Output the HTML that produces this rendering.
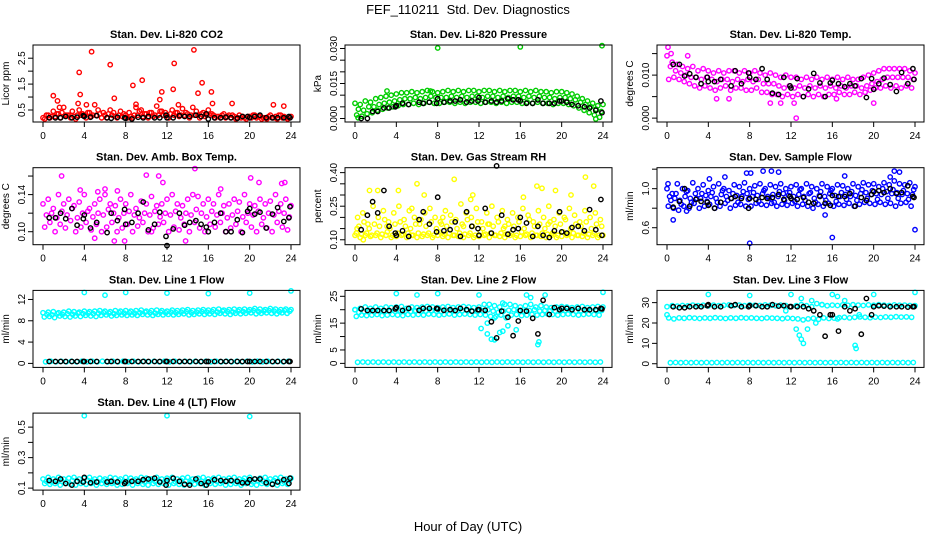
<!DOCTYPE html>
<html><head><meta charset="utf-8"><style>
body{margin:0;background:#fff;}
svg{display:block;font-family:"Liberation Sans",sans-serif;}
</style></head><body>
<svg id="c" width="936" height="540" viewBox="0 0 936 540">
<rect width="936" height="540" fill="#fff"/>
<text x="468" y="14" text-anchor="middle" font-size="13">FEF_110211&#160; Std. Dev. Diagnostics</text>
<text x="468" y="531" text-anchor="middle" font-size="13">Hour of Day (UTC)</text>
</svg>
<script>
const blackHours=[0.6,1.2,1.7,2.2,2.8,3.3,3.9,4.0,4.6,5.2,6.2,6.6,7.2,7.9,8.0,8.6,9.2,9.7,10.2,10.8,11.3,11.9,12.0,12.6,13.2,13.7,14.2,14.8,15.3,15.8,16.0,16.6,17.2,17.7,18.2,18.8,19.3,19.8,20.0,20.5,21.0,21.6,22.2,22.7,23.3,23.8,23.9];
const xTicks=[0,4,8,12,16,20,24];

const co2A=[0.2,0.3,0.45,0.35,0.6,0.3,0.25,0.5,0.3,0.4,0.7,0.35,0.3,0.5,0.25,0.45,0.3,0.25,0.6,0.5,0.35,0.4,0.65,0.45,0.3,0.5,0.4,0.55,0.35,0.6,0.3,0.4,0.5,0.3,0.25,0.35,0.3,0.25,0.3,0.2,0.25,0.3,0.25,0.2,0.3,0.25,0.3,0.2,0.25];
const co2B=[0.15,0.2,0.25,0.2,0.3,0.2,0.15,0.3,0.2,0.25,0.3,0.2,0.2,0.3,0.2,0.25,0.2,0.2,0.3,0.25,0.2,0.25,0.3,0.3,0.2,0.3,0.25,0.3,0.2,0.3,0.2,0.25,0.3,0.2,0.2,0.2,0.2,0.15,0.2,0.15,0.2,0.2,0.15,0.15,0.2,0.15,0.2,0.15,0.2];
const co2C=[0.3,0.25,0.35,0.4,0.3,0.45,0.3,0.35,0.4,0.3,0.5,0.4,0.35,0.4,0.3,0.35,0.4,0.3,0.45,0.35,0.4,0.3,0.45,0.4,0.35,0.4,0.3,0.4,0.3,0.45,0.35,0.3,0.35,0.25,0.3,0.25,0.3,0.2,0.25,0.25,0.3,0.25,0.2,0.25,0.2,0.3,0.25,0.2,0.2];
const co2Out=[[1,1.05],[1.4,0.85],[3.5,1.95],[3.6,1.1],[4.7,2.75],[6.5,2.25],[6.9,0.95],[8.7,1.45],[9.6,1.65],[11.5,1.2],[12.7,2.3],[12.6,1.3],[14.6,2.82],[15,1.15],[15.4,1.55],[16.3,1.2],[18.3,0.75],[22.3,0.7],[23.3,0.65],[4.2,0.7],[9,0.72],[11.3,0.9],[1.6,0.6],[3.4,0.75],[13.1,0.7],[16.4,0.75]];
const co2Blk=[0.2,0.2,0.2,0.25,0.2,0.22,0.28,0.25,0.22,0.28,0.2,0.18,0.22,0.2,0.18,0.15,0.22,0.2,0.25,0.2,0.2,0.3,0.2,0.2,0.28,0.25,0.25,0.3,0.25,0.35,0.15,0.2,0.2,0.22,0.2,0.18,0.25,0.25,0.2,0.25,0.3,0.2,0.2,0.2,0.2,0.25,0.2];

const prA=[0.0065,0.006,0.0075,0.007,0.0085,0.009,0.0095,0.01,0.0105,0.011,0.011,0.0115,0.011,0.0115,0.012,0.0115,0.011,0.0115,0.012,0.0115,0.012,0.0115,0.012,0.012,0.0115,0.012,0.012,0.0115,0.012,0.0115,0.012,0.012,0.0115,0.012,0.0115,0.012,0.0115,0.0115,0.011,0.0115,0.0115,0.011,0.0105,0.0095,0.0085,0.0075,0.0065,0.0055,0.006];
const prB=[0.0015,0.001,0.002,0.0025,0.0035,0.004,0.0045,0.005,0.0055,0.006,0.006,0.0065,0.006,0.0065,0.007,0.0065,0.0065,0.007,0.007,0.0065,0.007,0.0065,0.007,0.007,0.0065,0.007,0.007,0.0065,0.007,0.0065,0.007,0.007,0.0065,0.007,0.0065,0.007,0.0065,0.0065,0.006,0.0065,0.0065,0.006,0.0055,0.0045,0.0035,0.0025,0.0015,0.0005,0.003];
const prC=[0.004,0.0035,0.005,0.005,0.006,0.0065,0.007,0.0075,0.008,0.0085,0.0085,0.009,0.0085,0.009,0.0095,0.009,0.009,0.009,0.0095,0.009,0.0095,0.009,0.0095,0.0095,0.009,0.0095,0.0095,0.009,0.0095,0.009,0.0095,0.0095,0.009,0.0095,0.009,0.0095,0.009,0.009,0.0085,0.009,0.009,0.0085,0.008,0.007,0.006,0.005,0.004,0.003,0.0045];
const prOut=[[8,0.0302],[16,0.0307],[23.9,0.0312],[3.1,0.0118],[7.3,0.0118],[0.3,0.0003],[23.3,-0.0002]];
const prBlk=[0,0,0.003,0.003,0.0045,0.0045,0.005,0.0055,0.0065,0.006,0.007,0.0065,0.007,0.0065,0.0085,0.007,0.0075,0.0075,0.008,0.007,0.0075,0.0075,0.009,0.007,0.0075,0.007,0.0075,0.0085,0.008,0.008,0.0075,0.0065,0.0065,0.008,0.0065,0.0065,0.0065,0.0075,0.0075,0.007,0.006,0.0055,0.005,0.0045,0.0035,0.0075,0.0025];

const tpA=[0.0145,0.013,0.0125,0.012,0.0115,0.012,0.011,0.0115,0.011,0.0105,0.011,0.0105,0.011,0.011,0.0105,0.011,0.0105,0.011,0.0105,0.01,0.0105,0.01,0.0095,0.01,0.0095,0.0095,0.009,0.0095,0.009,0.0095,0.009,0.0095,0.009,0.0095,0.009,0.0095,0.009,0.009,0.0095,0.01,0.0105,0.011,0.0115,0.0115,0.0115,0.0115,0.0115,0.011,0.0105];
const tpB=[0.009,0.0095,0.009,0.0085,0.008,0.0075,0.007,0.0075,0.007,0.0065,0.007,0.0075,0.0065,0.007,0.007,0.0065,0.0065,0.007,0.006,0.006,0.0055,0.0055,0.005,0.0055,0.005,0.0055,0.005,0.0055,0.005,0.0055,0.005,0.0055,0.0055,0.006,0.0055,0.0055,0.006,0.0055,0.006,0.0065,0.007,0.007,0.0075,0.007,0.0075,0.007,0.0075,0.007,0.0075];
const tpC=[0.012,0.011,0.0105,0.01,0.0095,0.0095,0.009,0.0095,0.009,0.0085,0.009,0.009,0.0085,0.009,0.0085,0.009,0.0085,0.009,0.008,0.008,0.008,0.0075,0.007,0.0075,0.007,0.0075,0.007,0.0075,0.007,0.0075,0.007,0.0075,0.007,0.0075,0.007,0.0075,0.0075,0.007,0.0075,0.008,0.0085,0.009,0.0095,0.0095,0.0095,0.0095,0.0095,0.009,0.009];
const tpOut=[[0.1,0.0165],[0.4,0.015],[2,0.0145],[12.5,0],[10,0.0035],[11,0.0035],[12.3,0.0035],[20,0.0035],[16.4,0.0045],[4.8,0.0045],[6,0.0045]];
const tpBlk=[0.0125,0.0125,0.0098,0.0103,0.0095,0.008,0.0095,0.0085,0.0085,0.009,0.0075,0.011,0.008,0.0105,0.0095,0.009,0.0115,0.009,0.0058,0.0055,0.0095,0.0075,0.007,0.0092,0.005,0.0068,0.0104,0.0082,0.005,0.0082,0.0088,0.008,0.0073,0.008,0.0075,0.0092,0.0048,0.0092,0.0067,0.008,0.0093,0.0078,0.0062,0.0106,0.008,0.0115,0.009];

const abA=[0.13,0.135,0.125,0.14,0.13,0.135,0.128,0.132,0.14,0.125,0.13,0.135,0.14,0.13,0.128,0.135,0.13,0.14,0.125,0.133,0.13,0.138,0.128,0.13,0.135,0.14,0.13,0.128,0.135,0.14,0.138,0.13,0.135,0.13,0.14,0.128,0.13,0.135,0.132,0.14,0.13,0.128,0.135,0.13,0.133,0.14,0.13,0.135,0.128];
const abB=[0.105,0.11,0.1,0.108,0.104,0.112,0.1,0.105,0.11,0.102,0.108,0.1,0.105,0.11,0.1,0.104,0.108,0.1,0.106,0.11,0.1,0.104,0.108,0.11,0.1,0.105,0.102,0.108,0.1,0.11,0.104,0.1,0.108,0.105,0.11,0.1,0.104,0.108,0.1,0.11,0.105,0.1,0.108,0.104,0.1,0.11,0.105,0.102,0.108];
const abC=[0.118,0.12,0.115,0.122,0.118,0.125,0.115,0.12,0.122,0.116,0.12,0.118,0.124,0.12,0.115,0.12,0.122,0.118,0.115,0.12,0.118,0.122,0.116,0.12,0.118,0.122,0.115,0.12,0.118,0.124,0.12,0.116,0.122,0.118,0.12,0.115,0.118,0.122,0.116,0.12,0.118,0.122,0.115,0.12,0.118,0.122,0.12,0.116,0.12];
const abOut=[[1.8,0.16],[3.6,0.145],[5.3,0.143],[6,0.146],[7.2,0.144],[10,0.161],[11.2,0.16],[11.6,0.153],[14.7,0.168],[17.2,0.146],[20.1,0.158],[20.9,0.153],[23.1,0.152],[23.4,0.153],[5,0.093],[6.9,0.09],[7.9,0.09],[13.8,0.09],[10.5,0.1]];
const abBlk=[0.115,0.115,0.12,0.114,0.125,0.107,0.114,0.118,0.104,0.11,0.099,0.12,0.112,0.124,0.108,0.11,0.12,0.132,0.102,0.108,0.121,0.095,0.085,0.103,0.12,0.107,0.11,0.112,0.108,0.105,0.1,0.11,0.12,0.1,0.1,0.113,0.099,0.122,0.125,0.119,0.121,0.104,0.119,0.126,0.111,0.115,0.127];

const rhA=[0.12,0.11,0.12,0.115,0.12,0.11,0.12,0.11,0.115,0.12,0.11,0.12,0.11,0.115,0.12,0.11,0.12,0.115,0.11,0.12,0.115,0.11,0.12,0.11,0.115,0.12,0.11,0.12,0.115,0.11,0.12,0.11,0.115,0.12,0.11,0.12,0.115,0.11,0.12,0.11,0.115,0.12,0.11,0.12,0.115,0.11,0.12,0.11,0.12];
const rhB=[0.13,0.125,0.13,0.12,0.13,0.125,0.135,0.12,0.13,0.125,0.13,0.12,0.13,0.125,0.13,0.12,0.135,0.125,0.13,0.12,0.13,0.125,0.13,0.12,0.135,0.125,0.13,0.12,0.13,0.125,0.13,0.12,0.135,0.125,0.13,0.12,0.13,0.125,0.13,0.12,0.135,0.125,0.13,0.12,0.13,0.125,0.13,0.12,0.13];
const rhC=[0.2,0.22,0.17,0.25,0.2,0.23,0.18,0.22,0.25,0.19,0.23,0.2,0.17,0.22,0.24,0.2,0.18,0.23,0.21,0.19,0.26,0.22,0.2,0.24,0.18,0.22,0.25,0.2,0.23,0.19,0.22,0.2,0.24,0.21,0.18,0.23,0.2,0.25,0.19,0.22,0.2,0.24,0.21,0.18,0.23,0.2,0.22,0.19,0.16];
const rhD=[0.16,0.18,0.15,0.17,0.16,0.19,0.15,0.17,0.18,0.16,0.15,0.17,0.19,0.16,0.18,0.15,0.17,0.16,0.18,0.15,0.17,0.19,0.16,0.18,0.15,0.17,0.16,0.18,0.15,0.17,0.16,0.18,0.15,0.19,0.16,0.17,0.15,0.18,0.16,0.17,0.19,0.15,0.17,0.16,0.18,0.15,0.17,0.16,0.15];
const rhOut=[[1.4,0.32],[2.2,0.32],[4.2,0.32],[6,0.35],[6.7,0.3],[9.6,0.37],[11.4,0.3],[11.2,0.28],[16.3,0.29],[17.6,0.34],[18.1,0.33],[19.4,0.32],[20.9,0.3],[22.3,0.38],[23.1,0.34],[0.8,0.1],[0.2,0.15],[3.1,0.16],[10.5,0.16],[14.5,0.16],[18.7,0.17],[13,0.17],[5.5,0.24],[8.5,0.2]];
const rhBlk=[0.145,0.21,0.27,0.22,0.32,0.16,0.13,0.12,0.14,0.115,0.19,0.225,0.17,0.135,0.29,0.14,0.145,0.18,0.115,0.225,0.16,0.15,0.12,0.24,0.13,0.43,0.21,0.125,0.145,0.15,0.2,0.175,0.115,0.16,0.12,0.11,0.14,0.225,0.135,0.13,0.155,0.16,0.14,0.235,0.145,0.28,0.12];

const sfA=[1.0,0.95,1.05,1.0,0.98,1.06,1.0,1.04,0.98,1.02,1.05,1.0,0.98,1.04,1.02,1.06,1.0,1.03,1.05,1.0,1.04,1.02,1.05,1.0,1.02,1.04,1.0,1.05,1.02,1.0,1.05,1.02,1.0,1.04,1.03,1.0,1.05,1.02,1.06,1.04,1.05,1.02,1.06,1.04,1.08,1.05,1.04,1.06,1.02];
const sfB=[0.82,0.8,0.78,0.82,0.8,0.85,0.8,0.82,0.84,0.8,0.82,0.85,0.8,0.83,0.84,0.82,0.82,0.85,0.84,0.83,0.85,0.82,0.84,0.83,0.85,0.82,0.84,0.82,0.8,0.84,0.82,0.85,0.82,0.84,0.83,0.85,0.82,0.84,0.86,0.85,0.84,0.86,0.84,0.85,0.82,0.85,0.86,0.82,0.82];
const sfC=[0.92,0.9,0.88,0.92,0.9,0.95,0.9,0.93,0.92,0.9,0.94,0.92,0.9,0.93,0.92,0.95,0.92,0.93,0.95,0.92,0.94,0.92,0.95,0.93,0.92,0.94,0.92,0.95,0.9,0.93,0.92,0.95,0.93,0.92,0.94,0.92,0.93,0.95,0.96,0.94,0.95,0.94,0.97,0.95,0.96,0.94,0.95,0.94,0.92];
const sfD=[0.88,0.95,0.84,0.97,0.86,0.9,0.95,0.87,0.96,0.86,0.98,0.88,0.95,0.86,0.97,0.89,0.96,0.87,0.98,0.9,0.86,0.97,0.88,0.96,0.87,0.99,0.88,0.96,0.86,0.97,0.88,0.98,0.87,0.96,0.89,0.97,0.88,0.99,0.9,0.98,0.89,1.0,0.9,0.99,0.9,0.98,0.89,0.99,0.88];
const sfOut=[[0.6,0.68],[1.9,0.77],[4.1,1.1],[5.6,1.12],[7.7,1.16],[8.1,1.16],[9.3,1.18],[10.1,1.18],[10.8,1.17],[17.2,1.13],[21.6,1.12],[22,1.18],[22.5,1.17],[15.3,0.73],[16,0.5],[8,0.44],[24,0.58],[0.1,1.05]];
const sfBlk=[0.81,0.87,1.0,0.82,0.89,0.87,0.86,0.83,0.8,0.86,0.9,0.92,0.9,0.8,0.9,0.89,0.91,0.9,0.91,0.94,0.89,0.92,0.9,0.89,0.91,0.86,0.85,0.92,0.85,0.83,0.93,0.92,0.92,0.95,0.82,0.91,0.88,0.94,0.97,0.98,0.96,1.0,0.95,0.96,1.03,0.92,0.91];

const l1A=[9.5,9.6,9.7,9.5,9.6,9.8,9.7,9.6,9.8,9.7,9.8,9.9,9.8,9.7,9.9,9.8,9.9,9.8,9.9,10,9.8,9.9,10,9.9,9.8,10,9.9,10,10.1,9.9,10,10.1,10,10.1,10.2,10,10.1,10.2,10.1,10.2,10.1,10.3,10.2,10.1,10.3,10.2,10.1,10.2,10.1];
const l1B=[8.7,8.8,8.6,8.9,8.8,8.7,8.9,8.8,9,8.9,8.8,9,9.1,8.9,9,9.1,9,9.1,9,9.2,9.1,9,9.2,9.1,9.2,9.1,9.2,9.3,9.1,9.2,9.3,9.2,9.3,9.2,9.4,9.3,9.2,9.4,9.3,9.4,9.5,9.3,9.4,9.5,9.4,9.3,9.5,9.4,9.3];
const l1C=[0.3,0.4,0.3,0.4,0.3,0.4,0.3,0.4,0.3,0.4,0.3,0.4,0.3,0.4,0.3,0.4,0.3,0.4,0.3,0.4,0.3,0.4,0.3,0.4,0.3,0.4,0.3,0.4,0.3,0.4,0.3,0.4,0.3,0.4,0.3,0.4,0.3,0.4,0.3,0.4,0.3,0.4,0.3,0.4,0.3,0.4,0.3,0.4,0.3];
const l1D=[9.2,9.1,9.3,9.2,9.3,9.2,9.4,9.3,9.4,9.3,9.4,9.5,9.4,9.3,9.5,9.4,9.5,9.4,9.5,9.6,9.5,9.4,9.6,9.5,9.6,9.5,9.6,9.7,9.5,9.6,9.7,9.6,9.7,9.6,9.8,9.7,9.6,9.8,9.7,9.8,9.9,9.7,9.8,9.9,9.8,9.7,9.9,9.8,9.7];
const l1Out=[[4,13.3],[6,12.8],[8,13.3],[12,13.2],[16,13.1],[20,13.2],[24,13.6]];
const l1Blk=[0.35,0.35,0.35,0.35,0.35,0.35,0.35,0.35,0.35,0.35,0.35,0.35,0.35,0.35,0.35,0.35,0.35,0.35,0.35,0.35,0.35,0.35,0.35,0.35,0.35,0.35,0.35,0.35,0.35,0.35,0.35,0.35,0.35,0.35,0.35,0.35,0.35,0.35,0.35,0.35,0.35,0.35,0.35,0.35,0.35,0.35,0.35];

const l2A=[20,20.5,21,20.5,21,20.5,21,20.8,21,21.2,20.5,21,20.8,21,21.2,21,20.8,21,21.2,20.8,21,21.2,21,20.8,21,22,22,21.5,21,22,22,21.5,21,21.5,22,21,21.5,21,20.8,21,21.2,21,20.8,21,21.2,20.8,21,21.2,21];
const l2B=[17.5,18,17.8,18,18.2,17.8,18,18.2,18,17.8,18.2,18,18.2,18,18.4,18.2,18,18.2,18.4,18,18.2,18.4,18.2,18,18.2,18,17.5,17.5,18,17,18,18.2,17.8,18,18.2,18,18.2,18.4,18.2,18,18.2,18.4,18.2,18,18.2,18.4,18.2,18,18.2];
const l2C=[0.4,0.5,0.4,0.5,0.4,0.5,0.4,0.5,0.4,0.5,0.4,0.5,0.4,0.5,0.4,0.5,0.4,0.5,0.4,0.5,0.4,0.5,0.4,0.5,0.4,0.5,0.4,0.5,0.4,0.5,0.4,0.5,0.4,0.5,0.4,0.5,0.4,0.5,0.4,0.5,0.4,0.5,0.4,0.5,0.4,0.5,0.4,0.5,0.4];
const l2D=[19,19.3,19.5,19.2,19.6,19.3,19.5,19.4,19.6,19.5,19.3,19.6,19.4,19.5,19.7,19.5,19.3,19.6,19.7,19.4,19.6,19.7,19.5,19.4,19.6,20,19.5,19,19.5,19.8,20,19.6,19.4,19.7,20,19.5,19.7,19.6,19.5,19.6,19.7,19.6,19.4,19.6,19.7,19.5,19.6,19.7,19.6];
const l2Out=[[4,26],[6,25.5],[8,26],[12,25.5],[16.6,25.5],[17,24.5],[18.4,25.5],[24,26.5],[14.3,22.5],[12.2,13],[12.8,11],[13.2,9],[13.5,8.8],[14,11.5],[14.3,12],[14.8,14],[15.6,12.5],[17.7,7],[17.8,8],[13.5,17],[12.8,15],[0,20]];
const l2Blk=[20.3,19.7,19.7,19.7,19.7,19.7,20.3,20.8,19.7,20.5,19.8,20.5,20.5,20.5,20.3,19.8,20,19.7,20.5,20,19.5,20,20,19.8,15.5,9.5,19.5,17.2,10.3,15.8,19.7,19.5,16.8,11,23.5,18.2,20.8,20,20.5,20.5,20,20.5,20,20,20,20.5,20.3];

const l3A=[28,28.5,28.3,28.6,28.4,28.8,28.5,28.7,28.4,28.8,28.5,28.7,28.9,28.6,28.8,28.5,28.9,28.7,28.6,28.9,28.7,28.5,28.8,28.6,28,28.5,29,28.5,28,29.5,29,28.5,28.8,28.6,28.9,28.7,29,28.8,28.6,28.9,28.7,29,28.8,28.6,28.9,28.7,28.8,28.6,28.5];
const l3B=[22.5,22,22.5,22.3,22.6,22.4,22.2,22.5,22.3,22.6,22.4,22.2,22.5,22.3,22.6,22.4,22.5,22.3,22.2,22.5,22.4,22.3,22.1,22.4,22.2,22,21.5,22,22.3,21.8,22.5,22.2,22.4,22.6,22.8,22.5,22.8,23,22.8,22.6,22.9,22.7,23,22.8,23.1,22.9,23,22.8,23];
const l3C=[0.5,0.6,0.5,0.6,0.5,0.6,0.5,0.6,0.5,0.6,0.5,0.6,0.5,0.6,0.5,0.6,0.5,0.6,0.5,0.6,0.5,0.6,0.5,0.6,0.5,0.6,0.5,0.6,0.5,0.6,0.5,0.6,0.5,0.6,0.5,0.6,0.5,0.6,0.5,0.6,0.5,0.6,0.5,0.6,0.5,0.6,0.5,0.6,0.5];
const l3Out=[[0,24],[4,34],[8,33.5],[12,34],[16,34],[16.5,33],[20,34],[24,35],[13,32],[14,31],[11.5,26],[12.5,17],[12.8,14],[13,12],[13.2,10],[13.6,17],[14.4,20],[16.5,22],[18.2,9],[18.3,7.5],[18.6,24],[17.2,31],[15,29]];
const l3Blk=[28,27.5,27.5,28,28,28,28.5,29,28,28,28.5,29,28,28,28.5,28.5,28,28,29,28.3,28.5,28,28,28,28,27,26,24,13.5,24,24,16,28,26,27,14.5,32,24,28,28.5,28.3,28,28,28,27.8,28,28];

const l4A=[0.16,0.17,0.16,0.17,0.16,0.165,0.17,0.16,0.165,0.17,0.16,0.165,0.16,0.17,0.165,0.16,0.17,0.165,0.16,0.17,0.165,0.16,0.17,0.16,0.165,0.17,0.16,0.165,0.17,0.16,0.165,0.17,0.16,0.165,0.17,0.16,0.165,0.17,0.16,0.165,0.17,0.16,0.165,0.17,0.16,0.165,0.17,0.16,0.165];
const l4B=[0.13,0.125,0.13,0.12,0.13,0.125,0.12,0.13,0.125,0.13,0.12,0.13,0.125,0.13,0.12,0.125,0.13,0.12,0.13,0.125,0.12,0.13,0.125,0.13,0.12,0.13,0.125,0.12,0.13,0.125,0.13,0.12,0.13,0.125,0.13,0.12,0.125,0.13,0.12,0.13,0.125,0.12,0.13,0.125,0.13,0.12,0.13,0.125,0.12];
const l4C=[0.145,0.14,0.15,0.145,0.14,0.15,0.145,0.14,0.15,0.145,0.14,0.15,0.145,0.14,0.15,0.145,0.14,0.15,0.145,0.14,0.15,0.145,0.14,0.15,0.145,0.14,0.15,0.145,0.14,0.15,0.145,0.14,0.15,0.145,0.14,0.15,0.145,0.14,0.15,0.145,0.14,0.15,0.145,0.14,0.15,0.145,0.14,0.15,0.145];
const l4Out=[[4,0.575],[12,0.575],[20,0.57]];
const l4Blk=[0.15,0.145,0.16,0.13,0.12,0.145,0.14,0.17,0.135,0.14,0.14,0.145,0.14,0.13,0.14,0.145,0.145,0.155,0.16,0.165,0.14,0.12,0.15,0.165,0.145,0.125,0.12,0.16,0.13,0.12,0.14,0.155,0.15,0.145,0.15,0.145,0.135,0.135,0.155,0.16,0.16,0.135,0.125,0.14,0.155,0.13,0.165];

const panels=[
 {name:'co2',title:'Stan. Dev. Li-820 CO2',ylab:'Licor ppm',col:'#ff0000',y0:0.036,y1:3.01,ticks:[0.5,1,1.5,2,2.5],labels:['0.5','','1.5','','2.5'],series:[co2A,co2B,co2C],out:co2Out,blk:co2Blk},
 {name:'pressure',title:'Stan. Dev. Li-820 Pressure',ylab:'kPa',col:'#00cd00',y0:-0.0015,y1:0.0315,ticks:[0,0.005,0.01,0.015,0.02,0.025,0.03],labels:['0.000','','','0.015','','','0.030'],series:[prA,prB,prC],out:prOut,blk:prBlk},
 {name:'li820-temp',title:'Stan. Dev. Li-820 Temp.',ylab:'degrees C',col:'#ff00ff',y0:-0.0009,y1:0.017,ticks:[0,0.005,0.01,0.015],labels:['0.000','','0.010',''],series:[tpA,tpB,tpC],out:tpOut,blk:tpBlk},
 {name:'amb-box-temp',title:'Stan. Dev. Amb. Box Temp.',ylab:'degrees C',col:'#ff00ff',y0:0.086,y1:0.169,ticks:[0.1,0.12,0.14,0.16],labels:['0.10','','0.14',''],series:[abA,abB,abC],out:abOut,blk:abBlk},
 {name:'gas-stream-rh',title:'Stan. Dev. Gas Stream RH',ylab:'percent',col:'#ffff00',y0:0.078,y1:0.422,ticks:[0.1,0.15,0.2,0.25,0.3,0.35,0.4],labels:['0.10','','','0.25','','','0.40'],series:[rhA,rhB,rhC,rhD],out:rhOut,blk:rhBlk},
 {name:'sample-flow',title:'Stan. Dev. Sample Flow',ylab:'ml/min',col:'#0000ff',y0:0.426,y1:1.215,ticks:[0.6,0.8,1.0,1.2],labels:['0.6','','1.0',''],series:[sfA,sfB,sfC,sfD],out:sfOut,blk:sfBlk},
 {name:'line1-flow',title:'Stan. Dev. Line 1 Flow',ylab:'ml/min',col:'#00ffff',y0:-0.75,y1:13.7,ticks:[0,4,8,12],labels:['0','4','8','12'],series:[l1A,l1B,l1C,l1D],out:l1Out,blk:l1Blk},
 {name:'line2-flow',title:'Stan. Dev. Line 2 Flow',ylab:'ml/min',col:'#00ffff',y0:-1.5,y1:27.2,ticks:[0,5,10,15,20,25],labels:['0','5','','15','','25'],series:[l2A,l2B,l2C,l2D],out:l2Out,blk:l2Blk},
 {name:'line3-flow',title:'Stan. Dev. Line 3 Flow',ylab:'ml/min',col:'#00ffff',y0:-1.8,y1:36,ticks:[0,10,20,30],labels:['0','10','20','30'],series:[l3A,l3B,l3C],out:l3Out,blk:l3Blk},
 {name:'line4-flow',title:'Stan. Dev. Line 4 (LT) Flow',ylab:'ml/min',col:'#00ffff',y0:0.087,y1:0.592,ticks:[0.1,0.2,0.3,0.4,0.5],labels:['0.1','','0.3','','0.5'],series:[l4A,l4B,l4C],out:l4Out,blk:l4Blk}
];

const NS='http://www.w3.org/2000/svg';
const svg=document.getElementById('c');
function mk(tag,attrs,parent){const e=document.createElementNS(NS,tag);for(const k in attrs)e.setAttribute(k,attrs[k]);(parent||svg).appendChild(e);return e;}

panels.forEach((p,idx)=>{
  const ci=idx%3, ri=Math.floor(idx/3);
  const L=33+ci*312, R=L+267, T=45+ri*122.7, B=T+77;
  const xs=h=>L+10+h*(R-9-(L+10))/24;
  const ys=v=>B-(v-p.y0)/(p.y1-p.y0)*(B-T);
  const g=mk('g',{});
  
  
  const t=mk('text',{x:(L+R)/2,y:T-7,'text-anchor':'middle','font-size':11,'font-weight':'bold'},g);
  t.textContent=p.title;
  
  
  const yl=mk('text',{x:0,y:0,'text-anchor':'middle','font-size':10,transform:`translate(${L-24},${(T+B)/2}) rotate(-90)`},g);
  yl.textContent=p.ylab;
  
  
  const marks=mk('g',{fill:'none','stroke-width':1.4},g);
  
  
  const ns=p.series.length;
  p.series.forEach((arr,k)=>{
    arr.forEach((v,i)=>{
      const h=i*0.5+k*0.5/ns;
      if(h>24.1)return;
      const c=mk('circle',{cx:xs(h).toFixed(1),cy:ys(v).toFixed(1),r:2.2,stroke:p.col},marks);
      
      
    });
  });
  p.out.forEach(o=>{
    const c=mk('circle',{cx:xs(o[0]).toFixed(1),cy:ys(o[1]).toFixed(1),r:2.2,stroke:p.col},marks);
    
    
  });
  const n=Math.min(blackHours.length,p.blk.length);
  for(let i=0;i<n;i++){
    const c=mk('circle',{cx:xs(blackHours[i]).toFixed(1),cy:ys(p.blk[i]).toFixed(1),r:2.2,stroke:'#000'},marks);
    
    
  }
  const box=mk('rect',{x:L,y:T,width:R-L,height:B-T,fill:'none',stroke:'#000','stroke-width':1},g);
  
  
  xTicks.forEach(h=>{
    mk('line',{x1:xs(h),x2:xs(h),y1:B,y2:B+5,stroke:'#000'},g);
    const tx=mk('text',{x:xs(h),y:B+17,'text-anchor':'middle','font-size':10},g);
    tx.textContent=h;
    
    
  });
  p.ticks.forEach((v,i)=>{
    mk('line',{x1:L-5,x2:L,y1:ys(v),y2:ys(v),stroke:'#000'},g);
    if(p.labels[i]){
      const ty=mk('text',{x:0,y:0,'text-anchor':'middle','font-size':10,transform:`translate(${L-8},${ys(v)}) rotate(-90)`},g);
      ty.textContent=p.labels[i];
      
      
    }
  });
});
</script>
</body></html>
